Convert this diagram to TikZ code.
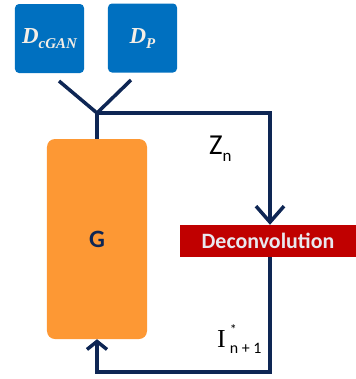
\documentclass[tikz,border=0pt]{standalone}
\usepackage{fontspec}
\setmainfont{Carlito}
\newfontfamily\serifit{Liberation Serif}
\usetikzlibrary{arrows.meta,calc}
\definecolor{navy}{RGB}{14,38,84}
\definecolor{dblue}{RGB}{0,112,192}
\definecolor{gorange}{RGB}{253,152,52}
\definecolor{dred}{RGB}{192,0,0}
\definecolor{lighttext}{RGB}{244,238,230}
\definecolor{decotext}{RGB}{232,232,238}
\begin{document}
\begin{tikzpicture}[x=1bp,y=-1bp,
  dbox/.style={draw=none,fill=dblue,rounded corners=4bp,inner sep=0pt,
    minimum width=69bp,minimum height=69bp,text=lighttext},
  gbox/.style={draw=none,fill=gorange,rounded corners=8bp,inner sep=0pt,
    minimum width=100bp,minimum height=200bp,text=navy,
    font=\fontsize{25}{25}\selectfont\bfseries},
  decobox/.style={draw=none,fill=dred,inner sep=0pt,
    minimum width=176bp,minimum height=32bp,text=decotext,
    font=\fontsize{22}{22}\selectfont\bfseries},
  conn/.style={draw=navy,line width=3.5bp},
  bigtip/.style={-{Straight Barb[length=16bp,width=28bp,line width=3.5bp]}},
  smalltip/.style={-{Straight Barb[length=8bp,width=20bp,line width=3.5bp]}}
]
\useasboundingbox (0,0) rectangle (356,379);

\node[dbox] (dc) at (49.5,38.5) {\serifit\bfseries\itshape\fontsize{23}{23}\selectfont D\raisebox{-5bp}{\fontsize{15}{15}\selectfont cGAN}};
\node[dbox] (dp) at (142.5,38) {\serifit\bfseries\itshape\fontsize{23}{23}\selectfont D\raisebox{-5bp}{\fontsize{15}{15}\selectfont P}};
\node[gbox] (g) at (97,239) {G};
\node[decobox] (deco) at (268,241) {Deconvolution};

\coordinate (j) at (97,113);
\coordinate (la) at (59,81);
\coordinate (ra) at (131,80);
\coordinate (c1) at (270,113);
\coordinate (c2) at (270,372);

\draw[conn] (la) -- (j) -- (ra);
\draw[conn] (j) -- (g.north);
\draw[conn,bigtip] (j) -- (c1) -- (c1 |- deco.north);
\draw[conn,smalltip] (c1 |- deco.south) -- (c2) -- (c2 -| g.south) -- (g.south);

\node[anchor=base west,inner sep=0pt,text=black] (zn) at (209,154)
  {\fontsize{29}{29}\selectfont Z\raisebox{-7bp}{\fontsize{17}{17}\selectfont n}};
\node[anchor=base west,inner sep=0pt,text=black] (in) at (217,347)
  {{\serifit\fontsize{26}{26}\selectfont I}\hspace{4bp}\rlap{\raisebox{13bp}{\fontsize{14}{14}\selectfont *}}\raisebox{-6bp}{\fontsize{16}{16}\selectfont n + 1}};
\end{tikzpicture}
\end{document}
